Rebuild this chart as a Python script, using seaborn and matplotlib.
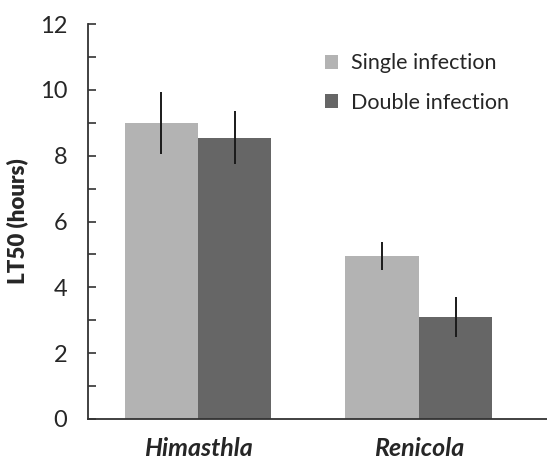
"""
LT50 of parasite species under single vs double infection, grouped bar chart.

Output:
    out.png
"""

import matplotlib.pyplot as plt
import pandas as pd
import seaborn as sns
from matplotlib.ticker import MultipleLocator

species = ["Himasthla", "Renicola"]
infection = ["Single infection", "Double infection"]
lt50_single = [9.0, 4.95]
lt50_double = [8.55, 3.1]
err_single = [0.95, 0.42]
err_double = [0.8, 0.6]

palette = {"Single infection": "#b3b3b3", "Double infection": "#666666"}


def build_frame() -> pd.DataFrame:
    rows = []
    for i, sp in enumerate(species):
        rows.append({"species": sp, "infection": infection[0],
                     "lt50": lt50_single[i], "err": err_single[i]})
        rows.append({"species": sp, "infection": infection[1],
                     "lt50": lt50_double[i], "err": err_double[i]})
    return pd.DataFrame(rows)


def main() -> None:
    df = build_frame()

    sns.set_theme(style="ticks")
    plt.rcParams["font.family"] = ["Lato", "DejaVu Sans"]

    fig = plt.figure(figsize=(5.47, 4.65), dpi=100)
    ax = fig.add_axes([0.161, 0.099, 0.839, 0.849])

    sns.barplot(data=df, x="species", y="lt50", hue="infection",
                order=species, hue_order=infection, palette=palette,
                width=0.665, errorbar=None, saturation=1, linewidth=0,
                ax=ax)

    # error bars at the bar centres, in the same order seaborn draws them
    errs = err_single + err_double
    vals = lt50_single + lt50_double
    bars = [p for p in ax.patches if p.get_height() > 0][:len(vals)]
    for bar, v, e in zip(bars, vals, errs):
        cx = bar.get_x() + bar.get_width() / 2
        ax.errorbar(cx, v, yerr=e, color="#1a1a1a", lw=1.4, capsize=0)

    ax.set_ylim(0, 12)
    ax.set_xlim(-0.498, 1.58)
    ax.yaxis.set_major_locator(MultipleLocator(2))
    ax.yaxis.set_minor_locator(MultipleLocator(1))
    ax.tick_params(axis="y", which="both", direction="in", length=6,
                   width=1.2, color="#333333", labelsize=17, pad=15)
    ax.tick_params(axis="x", length=0, pad=13)
    for lab in ax.get_xticklabels():
        lab.set_fontsize(18)
        lab.set_fontweight("bold")
        lab.set_fontstyle("italic")

    ax.set_xlabel("")
    ax.set_ylabel("LT50 (hours)", fontsize=16, fontweight="heavy", labelpad=8)

    sns.despine(ax=ax)
    for side in ("left", "bottom"):
        ax.spines[side].set_linewidth(1.3)
        ax.spines[side].set_color("#333333")

    ax.legend(loc="upper left", bbox_to_anchor=(0.475, 0.975), frameon=False,
              fontsize=15.5, handlelength=0.6, handleheight=0.6,
              handletextpad=0.6, labelspacing=0.9)

    fig.savefig("out.png", dpi=100)
    plt.close(fig)


if __name__ == "__main__":
    main()
